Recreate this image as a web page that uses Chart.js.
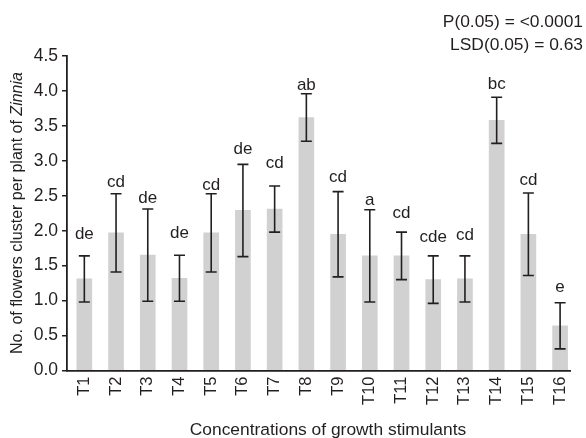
<!DOCTYPE html>
<html>
<head>
<meta charset="utf-8">
<script src="https://cdn.jsdelivr.net/npm/chart.js@4/dist/chart.umd.min.js"></script>
<style>
  html, body { margin: 0; padding: 0; background: #fff; }
  #wrap { width: 586px; height: 438px; position: relative; }
</style>
</head>
<body>
<div id="wrap"><canvas id="c" width="586" height="438"></canvas></div>
<script>
// Treatments and their mean flower-cluster counts with error margins
const treatments = ['T1','T2','T3','T4','T5','T6','T7','T8','T9','T10','T11','T12','T13','T14','T15','T16'];
const meanClusters = [1.31, 1.97, 1.65, 1.32, 1.97, 2.29, 2.31, 3.62, 1.95, 1.64, 1.64, 1.30, 1.31, 3.58, 1.95, 0.64];
const errorMargin  = [0.33, 0.56, 0.66, 0.33, 0.56, 0.66, 0.33, 0.34, 0.61, 0.66, 0.34, 0.34, 0.33, 0.33, 0.59, 0.33];
const groupLetters = ['de','cd','de','de','cd','de','cd','ab','cd','a','cd','cde','cd','bc','cd','e'];
const statLines = ['P(0.05) = <0.0001', 'LSD(0.05) = 0.63'];
const yRange = { min: 0, max: 4.5, step: 0.5 };

// Styling
const INK = '#231f20';
const BAR = '#d1d1d2';
const FONT = "'Liberation Sans', Arial, Helvetica, sans-serif";
const letterGap = [17, 7, 6, 17, 4, 10, 18, 4, 10, 5, 14, 14, 16, 8, 8, 11];

const annotate = {
  id: 'annotate',
  afterDatasetsDraw(chart) {
    const { ctx, scales: { x, y } } = chart;
    ctx.save();
    // error bars
    ctx.strokeStyle = INK;
    ctx.lineWidth = 1.6;
    const cap = 5.5;
    meanClusters.forEach((m, i) => {
      const px = x.getPixelForValue(i + 1);
      const top = y.getPixelForValue(m + errorMargin[i]);
      const bot = y.getPixelForValue(m - errorMargin[i]);
      ctx.beginPath();
      ctx.moveTo(px, top); ctx.lineTo(px, bot);
      ctx.moveTo(px - cap, top); ctx.lineTo(px + cap, top);
      ctx.moveTo(px - cap, bot); ctx.lineTo(px + cap, bot);
      ctx.stroke();
    });
    // significance letters
    ctx.fillStyle = INK;
    ctx.font = '17px ' + FONT;
    ctx.textAlign = 'center';
    ctx.textBaseline = 'alphabetic';
    groupLetters.forEach((t, i) => {
      const px = x.getPixelForValue(i + 1);
      const top = y.getPixelForValue(meanClusters[i] + errorMargin[i]);
      ctx.fillText(t, px, top - letterGap[i]);
    });
    ctx.restore();
  },
  afterDraw(chart) {
    const { ctx } = chart;
    ctx.save();
    ctx.fillStyle = INK;
    // statistics in the top-right corner
    ctx.font = '17.4px ' + FONT;
    ctx.textAlign = 'right';
    ctx.textBaseline = 'alphabetic';
    ctx.fillText(statLines[0], 583, 26.5);
    ctx.fillText(statLines[1], 583, 49.5);
    // x-axis title
    ctx.textAlign = 'center';
    ctx.fillText('Concentrations of growth stimulants', 328, 435);
    // y-axis title with italic genus name
    const plain = 'No. of flowers cluster per plant of ';
    const genus = 'Zinnia';
    ctx.translate(22, 213);
    ctx.rotate(-Math.PI / 2);
    ctx.textAlign = 'left';
    ctx.font = '16px ' + FONT;
    const w1 = ctx.measureText(plain).width;
    ctx.font = 'italic 16px ' + FONT;
    const w2 = ctx.measureText(genus).width;
    const start = -(w1 + w2) / 2;
    ctx.font = '16px ' + FONT;
    ctx.fillText(plain, start, 0);
    ctx.font = 'italic 16px ' + FONT;
    ctx.fillText(genus, start + w1, 0);
    ctx.restore();
  }
};

new Chart(document.getElementById('c'), {
  type: 'bar',
  data: {
    datasets: [{
      data: meanClusters.map((v, i) => ({ x: i + 1, y: v })),
      backgroundColor: BAR,
      borderWidth: 0,
      barThickness: 15
    }]
  },
  options: {
    responsive: false,
    animation: false,
    devicePixelRatio: 1,
    layout: { padding: { top: 56, right: 5, left: 0, bottom: 0 } },
    plugins: { legend: { display: false }, tooltip: { enabled: false }, title: { display: false } },
    scales: {
      x: {
        type: 'linear',
        min: 0.4535,
        max: 16.32,
        offset: false,
        grid: { display: false, drawTicks: false, offset: false },
        border: { display: true, color: INK, width: 1.8 },
        ticks: {
          stepSize: 1,
          includeBounds: false,
          autoSkip: false,
          maxRotation: 90,
          minRotation: 90,
          padding: 6,
          color: INK,
          font: { family: FONT, size: 16.5 },
          callback: (v) => (Number.isInteger(v) && v >= 1 && v <= treatments.length) ? treatments[v - 1] : ''
        },
        afterFit: (s) => { s.height = 67.5; }
      },
      y: {
        min: yRange.min,
        max: yRange.max,
        grid: { display: true, drawOnChartArea: false, drawTicks: true, tickLength: 5, color: INK, lineWidth: 1.5 },
        border: { display: true, color: INK, width: 1.8 },
        ticks: {
          stepSize: yRange.step,
          padding: 4,
          color: INK,
          font: { family: FONT, size: 17.5 },
          callback: (v) => v.toFixed(1)
        },
        afterFit: (s) => { s.width = 67; }
      }
    }
  },
  plugins: [annotate]
});
</script>
</body>
</html>
